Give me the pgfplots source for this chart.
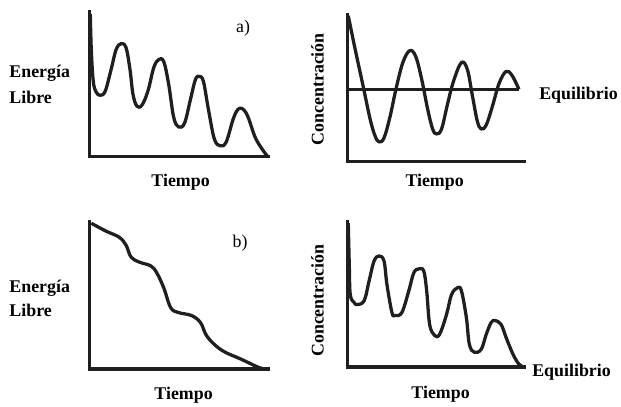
\documentclass[border=0pt]{standalone}
\usepackage{pgfplots}
\pgfplotsset{compat=1.18}
\usepackage{fontspec}
\setmainfont{Liberation Serif}

\pgfplotsset{
  panel/.style={
    scale only axis,
    axis x line=bottom, axis y line=left,
    axis line style={-, line width=3.4pt, black!88, line cap=rect},
    ticks=none,
    xmin=0, ymin=0,
    clip=false,
  },
  curva/.style={line width=3.3pt, black!88, smooth, tension=0.6, no markers, line join=round},
}

\begin{document}
\begin{tikzpicture}[x=1pt, y=1pt, font=\fontsize{18}{20}\selectfont\bfseries]
\path (0,0) rectangle (621,-407);

% a) energia libre
\begin{axis}[panel, at={(90pt,-158pt)}, anchor=south west,
  width=180pt, height=146pt, xmax=180, ymax=146]
\addplot[curva] coordinates {
(1,144) (2,108) (4,76) (7,65) (11,62) (16,66) (22,88) (27,108) (32,114)
(37,110) (41,88) (44,63) (48,51) (53,52) (59,66) (65,90) (70,98) (75,96)
(80,73) (85,40) (90,30) (96,34) (102,58) (107,78) (111,81) (115,76)
(120,48) (126,18) (132,11) (138,15) (145,38) (150,48) (155,48) (160,40)
(167,20) (174,8) (180,0)};
\end{axis}

% a) concentracion
\begin{axis}[panel, at={(350pt,-163pt)}, anchor=south west,
  width=178pt, height=148pt, xmax=178, ymax=148]
\addplot[line width=3.3pt, black!88, no markers] coordinates {(0,73) (173,73)};
\addplot[curva] coordinates {
(1,147) (8,113) (16,76) (23,43) (28,26) (32,20) (37,24) (43,45) (49,73)
(56,100) (63,112) (69,106) (75,83) (81,53) (86,33) (90,28) (95,33)
(101,58) (107,81) (115,100) (121,93) (126,67) (131,41) (135,33) (140,37)
(146,55) (153,79) (160,91) (166,87) (173,73)};
\end{axis}

% b) energia libre
\begin{axis}[panel, at={(90pt,-372pt)}, anchor=south west,
  width=180pt, height=149pt, xmax=180, ymax=149]
\addplot[curva] coordinates {
(2,147) (17,139) (30,133) (37,125) (42,113) (50,108) (62,104) (68,97)
(75,82) (82,62) (90,57) (103,54) (112,47) (118,34) (127,24) (137,17)
(153,10) (170,2) (177,0)};
\end{axis}

% b) concentracion
\begin{axis}[panel, at={(350pt,-370pt)}, anchor=south west,
  width=178pt, height=147pt, xmax=178, ymax=147]
\addplot[curva] coordinates {
(1,145) (2,103) (3,73) (7,65) (10,63) (17,67) (22,87) (27,107) (32,112)
(37,107) (40,83) (45,55) (48,52) (55,55) (62,77) (67,95) (72,99) (77,97)
(80,77) (83,43) (88,32) (93,33) (100,53) (105,73) (111,80) (115,77)
(120,50) (123,23) (128,15) (135,18) (140,33) (145,45) (149,47) (155,43)
(160,30) (167,13) (173,3) (178,0)};
\end{axis}

% textos
\node[anchor=west] at (6,-74) {Energía};
\node[anchor=west] at (6,-98) {Libre};
\node[anchor=west] at (6,-291) {Energía};
\node[anchor=west] at (6,-313) {Libre};
\node at (182,-184) {Tiempo};
\node at (438,-184) {Tiempo};
\node at (185,-398) {Tiempo};
\node at (444,-397) {Tiempo};
\node[rotate=90] at (320,-90) {Concentración};
\node[rotate=90] at (320,-303) {Concentración};
\node at (583,-96) {Equilibrio};
\node at (576,-375) {Equilibrio};
\node[font=\fontsize{18}{20}\selectfont\mdseries] at (245,-28) {a)};
\node[font=\fontsize{18}{20}\selectfont\mdseries] at (242,-245) {b)};
\end{tikzpicture}
\end{document}
